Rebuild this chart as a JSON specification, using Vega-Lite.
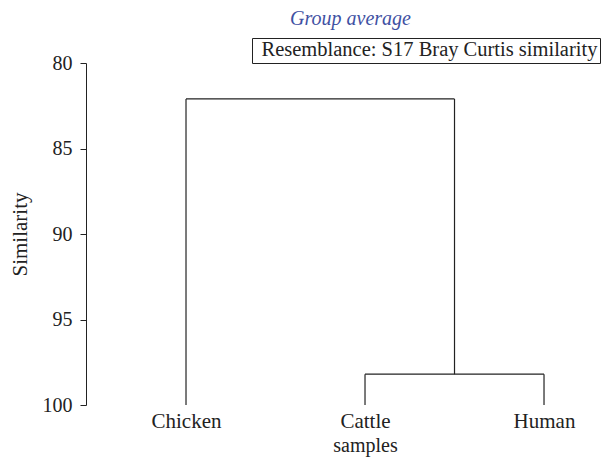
{
  "$schema": "https://vega.github.io/schema/vega-lite/v6.json",
  "autosize": "none",
  "width": 519,
  "height": 342,
  "padding": {"left": 86, "top": 63, "right": 0, "bottom": 54},
  "background": "white",
  "title": {
    "text": "Group average",
    "font": "Liberation Serif",
    "fontStyle": "italic",
    "fontWeight": "normal",
    "fontSize": 20,
    "color": "#3f51a3",
    "anchor": "middle",
    "dx": 5,
    "offset": 9
  },
  "config": {
    "view": {"stroke": null},
    "font": "Liberation Serif"
  },
  "data": {
    "values": [
      {"x": 1, "x2": 1, "y": 100, "y2": 82.1, "legend": "Resemblance: S17 Bray Curtis similarity"},
      {"x": 2, "x2": 2, "y": 100, "y2": 98.2, "legend": "Resemblance: S17 Bray Curtis similarity"},
      {"x": 3, "x2": 3, "y": 100, "y2": 98.2, "legend": "Resemblance: S17 Bray Curtis similarity"},
      {"x": 2, "x2": 3, "y": 98.2, "y2": 98.2, "legend": "Resemblance: S17 Bray Curtis similarity"},
      {"x": 2.5, "x2": 2.5, "y": 98.2, "y2": 82.1, "legend": "Resemblance: S17 Bray Curtis similarity"},
      {"x": 1, "x2": 2.5, "y": 82.1, "y2": 82.1, "legend": "Resemblance: S17 Bray Curtis similarity"}
    ]
  },
  "mark": {"type": "rule", "strokeWidth": 1.2},
  "encoding": {
    "x": {
      "field": "x",
      "type": "quantitative",
      "scale": {"domain": [0.4413, 3.3407], "nice": false, "zero": false},
      "axis": {
        "values": [1, 2, 3],
        "labelExpr": "datum.value == 1 ? 'Chicken' : datum.value == 2 ? 'Cattle' : 'Human'",
        "domain": false,
        "ticks": false,
        "grid": false,
        "labelFont": "Liberation Serif",
        "labelFontSize": 21,
        "labelColor": "#222",
        "labelPadding": 5,
        "title": "samples",
        "titleFont": "Liberation Serif",
        "titleFontSize": 20,
        "titleFontWeight": "normal",
        "titleColor": "#222",
        "titleX": 279,
        "titlePadding": 4
      }
    },
    "x2": {"field": "x2"},
    "y": {
      "field": "y",
      "type": "quantitative",
      "scale": {"domain": [80, 100], "reverse": true, "nice": false, "zero": false},
      "axis": {
        "values": [80, 85, 90, 95, 100],
        "grid": false,
        "domainColor": "#222",
        "tickColor": "#222",
        "tickSize": 6,
        "labelFont": "Liberation Serif",
        "labelFontSize": 20,
        "labelColor": "#222",
        "labelPadding": 8,
        "title": "Similarity",
        "titleFont": "Liberation Serif",
        "titleFontSize": 21,
        "titleFontWeight": "normal",
        "titleColor": "#222",
        "titlePadding": 12
      }
    },
    "y2": {"field": "y2"},
    "color": {
      "field": "legend",
      "type": "nominal",
      "scale": {"range": ["#222222"]},
      "legend": {
        "title": null,
        "orient": "none",
        "legendX": 166,
        "legendY": -25,
        "strokeColor": "#222",
        "padding": 2,
        "symbolSize": 1,
        "symbolOpacity": 0,
        "symbolStrokeWidth": 0,
        "labelOffset": -13,
        "labelFont": "Liberation Serif",
        "labelFontSize": 20.5,
        "labelColor": "#222",
        "labelLimit": 500
      }
    }
  }
}
